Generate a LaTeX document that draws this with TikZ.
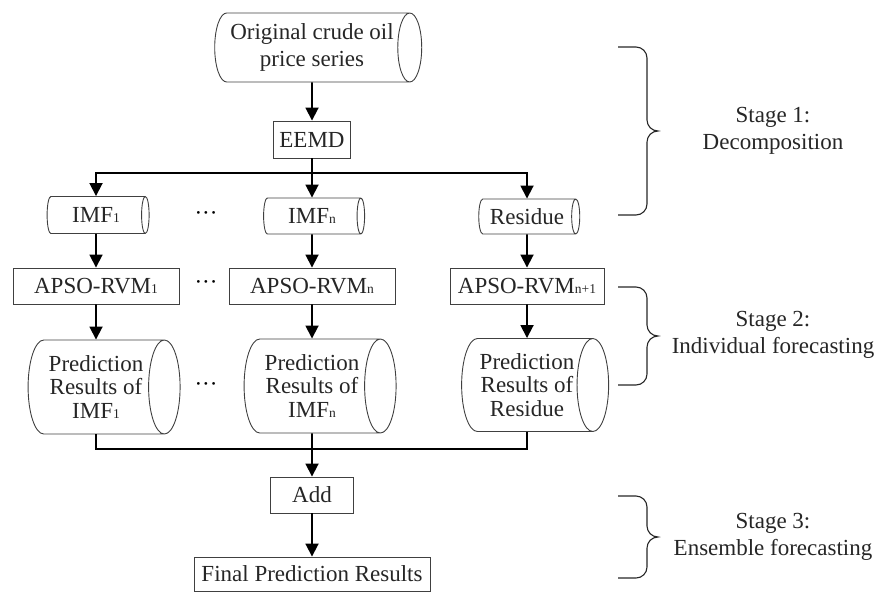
\documentclass[tikz,border=0pt]{standalone}
\usepackage{fontspec}
\setmainfont{Liberation Serif}
\usetikzlibrary{positioning,shapes.geometric,arrows.meta}

\newcommand{\subidx}[1]{{\fontsize{13.5}{13.5}\selectfont #1}}
\newcommand{\threedots}{\textperiodcentered\textperiodcentered\textperiodcentered}
% curly brace for a stage, from #1 (top) to #2 (bottom)
\newcommand{\stagebrace}[2]{%
  \pgfmathsetmacro{\bmid}{(#1+#2)/2}
  \draw[bracestyle] (618,#1) -- (636,#1) to[out=0,in=90] (647,#1+11) -- (647,\bmid-11)
    to[out=-90,in=180] (658,\bmid) to[out=180,in=90] (647,\bmid+11) -- (647,#2-11)
    to[out=-90,in=0] (636,#2) -- (618,#2);}

\tikzset{
  box/.style={draw=black!75, line width=0.9pt, rectangle, inner sep=0pt, text=black!85},
  drum/.style={draw=black!75, line width=0.9pt, cylinder, shape aspect=0.5, inner sep=0pt, text=black!85, align=center},
  preddrum/.style={drum, minimum height=152pt, minimum width=94pt, font=\fontsize{23}{23.5}\selectfont},
  arr/.style={line width=1.8pt, -{Triangle[length=13pt,width=13pt]}},
  link/.style={line width=1.8pt},
  bracestyle/.style={line width=1.1pt, draw=black!85},
  stagetext/.style={align=center, text=black!85}
}

\begin{document}
\begin{tikzpicture}[x=1pt,y=-1pt,font=\fontsize{23}{27}\selectfont]
  \useasboundingbox (0,0) rectangle (877,592);

  \node[drum, minimum height=207pt, minimum width=69pt] (orig) at (312,47.5) {Original crude oil\\price series};
  \node[box, minimum width=77pt, minimum height=37pt] (eemd) at (312,139.5) {EEMD};
  \coordinate (split) at (312,173);

  \node[drum, minimum height=102pt, minimum width=37pt] (imf1) at (96,215) {IMF\subidx{1}};
  \node[drum, minimum height=101pt, minimum width=36pt] (imfn) at (312,216) {IMF\subidx{n}};
  \node[drum, minimum height=101pt, minimum width=35pt] (res) at (527,216.5) {Residue};
  \node (dots1) at (206,216) {\threedots};

  \node[box, minimum width=166pt, minimum height=36pt] (rvm1) at (96,286) {APSO-RVM\subidx{1}};
  \node[box, minimum width=166pt, minimum height=36pt] (rvmn) at (312,286) {APSO-RVM\subidx{n}};
  \node[box, minimum width=154pt, minimum height=36pt] (rvmr) at (527,286) {APSO-RVM\subidx{n+1}};
  \node (dots2) at (206,285) {\threedots};

  \node[preddrum] (pred1) at (96,387) {Prediction\\Results of\\IMF\subidx{1}};
  \node[preddrum] (predn) at (312,386) {Prediction\\Results of\\IMF\subidx{n}};
  \node[preddrum, minimum height=147pt, minimum width=93pt] (predr) at (527,385) {Prediction\\Results of\\Residue};
  \node (dots3) at (206,387) {\threedots};

  \coordinate (merge) at (312,449);
  \node[box, minimum width=83pt, minimum height=36pt] (add) at (312,495) {Add};
  \node[box, minimum width=236pt, minimum height=34pt] (final) at (312,574) {Final Prediction Results};

  % decomposition
  \draw[arr] (orig) -- (eemd);
  \draw[link] (eemd) -- (split);
  \draw[arr] (split) -| (imf1);
  \draw[arr] (split) -- (imfn);
  \draw[arr] (split) -| (res);

  % forecasting columns
  \foreach \a/\b in {imf1/rvm1, rvm1/pred1, imfn/rvmn, rvmn/predn, res/rvmr, rvmr/predr}
    \draw[arr] (\a) -- (\b);

  % ensemble
  \draw[link] (pred1) |- (merge);
  \draw[link] (predr) |- (merge);
  \draw[arr] (predn) -- (add);
  \draw[arr] (add) -- (final);

  % stages
  \stagebrace{47}{215}
  \stagebrace{287}{385}
  \stagebrace{496}{578}
  \node[stagetext] (stage1) at (773,131) {Stage 1:\\Decomposition};
  \node[stagetext] (stage2) at (773,335) {Stage 2:\\Individual forecasting};
  \node[stagetext] (stage3) at (773,537) {Stage 3:\\Ensemble forecasting};
\end{tikzpicture}
\end{document}
